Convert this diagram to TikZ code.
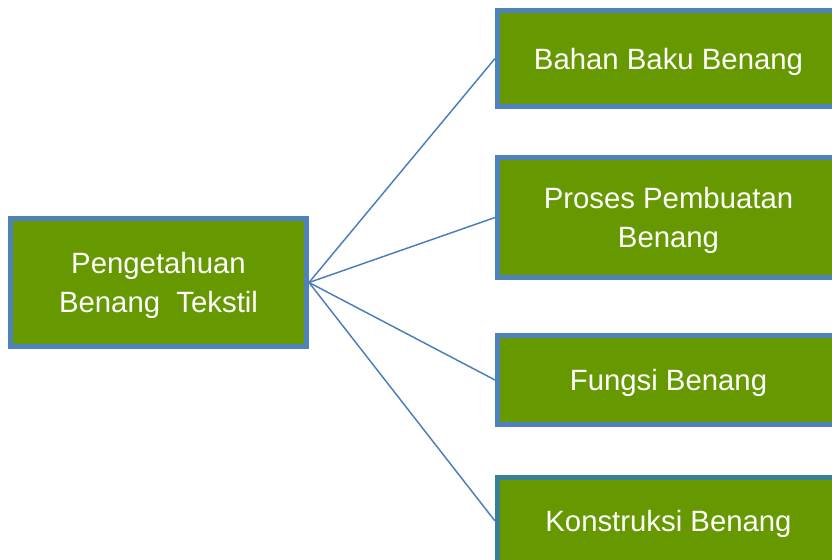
\documentclass[tikz,border=0pt]{standalone}
\usepackage{fontspec}
\setmainfont{Liberation Sans}
\usepackage{tikz}
\usetikzlibrary{positioning}
\definecolor{leafgreen}{RGB}{102,153,0}
\definecolor{edgeblue}{RGB}{79,129,189}
\definecolor{edgeteal}{RGB}{58,127,150}
\definecolor{linkblue}{RGB}{74,126,187}

\begin{document}
\begin{tikzpicture}[x=0.75pt,y=-0.75pt,
    topic/.style={draw=edgeblue, line width=3.75pt, fill=leafgreen, text=white,
        font=\fontsize{22}{29}\selectfont, align=center, inner sep=0pt, text depth=0pt},
    subtopic/.style={topic, minimum width=256.5pt},
    link/.style={linkblue, line width=1.1pt}]
        \useasboundingbox (0,0) rectangle (832,560);
        \clip (0,0) rectangle (832,560);
        % lines first, boxes on top
        \path (158.5,282.5) node[topic, minimum width=222pt, minimum height=96pt] (root) {Pengetahuan\\Benang~~Tekstil};
        \path (668.5,58.5) node[subtopic, minimum height=72pt] (bahan) {Bahan Baku Benang};
        \path (668.5,217.5) node[subtopic, minimum height=90pt] (proses) {Proses Pembuatan\\Benang};
        \path (668.5,380) node[subtopic, minimum height=66.75pt] (fungsi) {Fungsi Benang};
        \path (668.5,521) node[subtopic, draw=edgeteal, minimum height=65pt] (konstruksi) {Konstruksi Benang};
        \draw[link] (root.east) -- (bahan.west);
        \draw[link] (root.east) -- (proses.west);
        \draw[link] (root.east) -- (fungsi.west);
        \draw[link] (root.east) -- (konstruksi.west);
    \end{tikzpicture}
\end{document}
